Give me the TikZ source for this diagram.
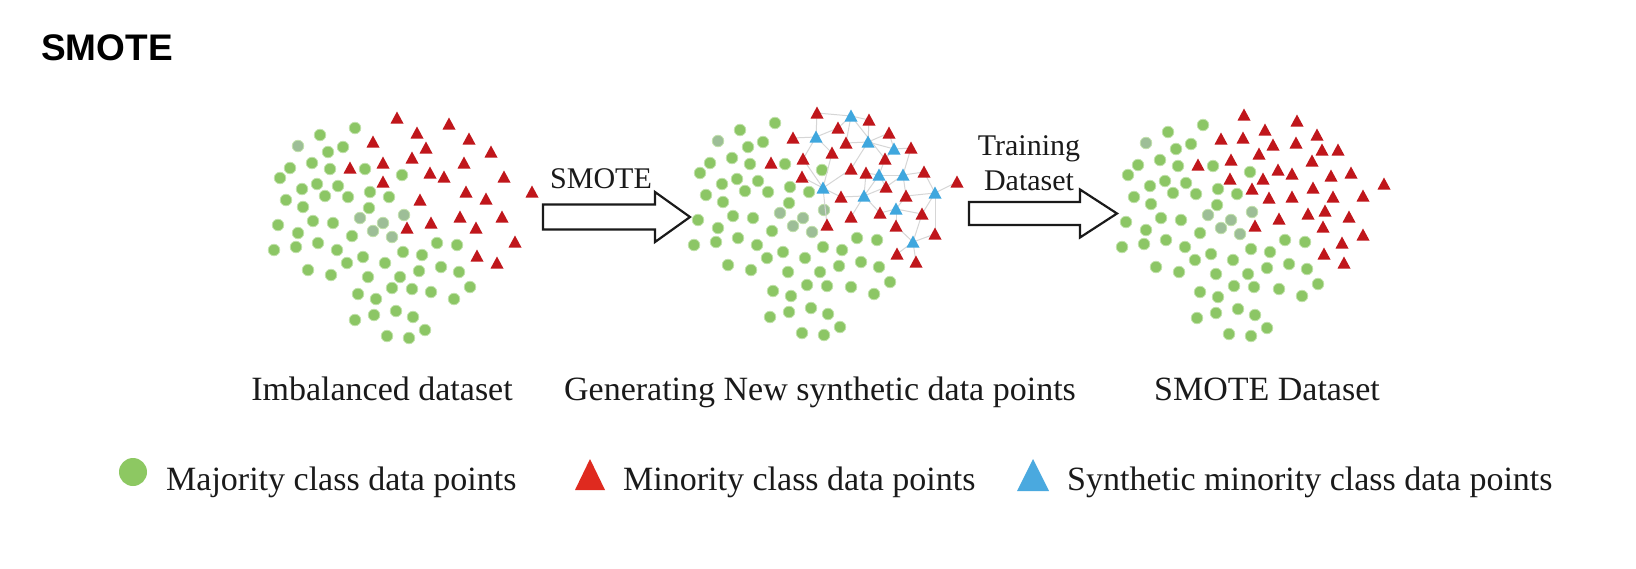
\documentclass[tikz,border=0pt]{standalone}
\usepackage{fontspec}
\setmainfont{Liberation Serif}
\newfontfamily\titlefont{Liberation Sans}
\definecolor{gdotc}{HTML}{8CC665}
\definecolor{ghalo}{HTML}{C2E2AC}
\definecolor{ggrayc}{HTML}{9DBE97}
\definecolor{redc}{HTML}{C0161B}
\definecolor{bluec}{HTML}{3FA7DE}
\definecolor{edgec}{HTML}{D6D6D6}
\definecolor{legG}{HTML}{8DC862}
\definecolor{legR}{HTML}{DF2A1F}
\definecolor{legB}{HTML}{4AA9DF}
\definecolor{inkc}{HTML}{1A1A1A}
\tikzset{
  gdot/.style={fill=gdotc, draw=ghalo, line width=0.8pt},
  ggray/.style={fill=ggrayc, draw=ghalo, line width=0.8pt},
  redT/.style={fill=redc},
  blueT/.style={fill=bluec},
  link/.style={draw=edgec, line width=1pt},
  blockarrow/.style={draw=inkc, line width=2.2pt, fill=white, line join=miter},
  lab/.style={inner sep=0pt, text=inkc, font=\fontsize{34}{40}\selectfont},
  alab/.style={inner sep=0pt, text=inkc, font=\fontsize{30}{35}\selectfont},
}
\newcommand\GreenA{355/128,320/135,343/147,328/152,312/163,290/168,280/178,330/169,365/169,402/175,302/189,317/184,338/186,325/196,348/197,370/192,389/197,286/200,303/207,369/208,313/221,333/223,278/225,298/233,352/236,318/243,296/247,274/250,337/250,363/257,403/252,422/255,437/243,457/245,385/263,347/263,308/270,331/275,368/277,400/277,419/271,441/267,459/272,470/287,431/292,454/299}
\newcommand\GreenGray{298/146,360/218,404/215,383/223,373/231,392/237}
\newcommand\GreenB{412/289,392/288,358/294,376/299,355/320,374/315,396/311,413/317,425/330,387/336,409/338}
\newcommand\RedOne{397/118,449/124,417/133,373/142,469/139,426/148,491/152,412/158,350/168,383/163,464/163,430/173,444/177,504/177,383/182,466/192,486/199,420/200,532/192,460/217,431/223,502/217,476/228,407/228,515/242,477/256,497/263}
\newcommand\RedTwo{817/113,869/120,838/128,889/133,793/138,846/143,911/148,832/153,803/159,771/163,885/159,851/169,866/173,924/172,802/177,886/187,841/197,906/196,880/213,851/217,922/214,827/225,896/226,935/234,897/254,916/262,957/182}
\newcommand\BlueTwo{851/116,816/137,868/142,894/149,879/175,903/175,823/188,864/196,935/193,896/209,913/242}
\newcommand\RedThree{1244/115,1297/121,1265/130,1317/135,1221/139,1243/138,1273/145,1296/143,1322/150,1338/150,1259/154,1312/161,1231/160,1198/165,1278/170,1292/174,1331/176,1351/173,1230/179,1263/179,1252/189,1313/188,1269/198,1292/197,1333/197,1308/214,1325/211,1349/217,1279/219,1255/226,1323/227,1342/243,1324/254,1344/263,1384/184,1363/196,1363/235}
\newcommand\LinksTwo{851/116/817/113,851/116/869/120,851/116/838/128,851/116/846/143,851/116/885/159,
816/137/817/113,816/137/838/128,816/137/793/138,816/137/803/159,816/137/832/153,
868/142/846/143,868/142/869/120,868/142/889/133,868/142/851/169,868/142/894/149,
894/149/889/133,894/149/911/148,894/149/885/159,
879/175/866/173,879/175/885/159,879/175/886/187,879/175/864/196,879/175/903/175,
903/175/924/172,903/175/911/148,903/175/906/196,903/175/886/187,
823/188/802/177,823/188/803/159,823/188/841/197,823/188/832/153,823/188/827/225,823/188/851/169,
864/196/841/197,864/196/851/217,864/196/880/213,864/196/886/187,864/196/866/173,
935/193/924/172,935/193/906/196,935/193/922/214,935/193/957/182,935/193/935/234,
896/209/880/213,896/209/906/196,896/209/896/226,896/209/922/214,
913/242/896/226,913/242/897/254,913/242/916/262,913/242/935/234,913/242/922/214}
\newcommand\tri[3]{\fill[#3] (#1-6.5,#2+5.5) -- (#1+6.5,#2+5.5) -- (#1,#2-6.5) -- cycle;}
\newcommand\greencluster[4]{%
  \begin{scope}[shift={(#1,#2)}]
    \foreach \x/\y in \GreenA {\path[gdot] (\x,\y) circle (5.8pt);}
    \foreach \x/\y in \GreenGray {\path[ggray] (\x,\y) circle (5.8pt);}
  \end{scope}
  \begin{scope}[shift={(#3,#4)}]
    \foreach \x/\y in \GreenB {\path[gdot] (\x,\y) circle (5.8pt);}
  \end{scope}}
\begin{document}
\begin{tikzpicture}[x=1pt,y=-1pt]
\useasboundingbox (0,0) rectangle (1636,568);
\fill[white] (0,0) rectangle (1636,568);

% title
\node[anchor=base west, inner sep=0pt, text=black, font=\titlefont\bfseries\fontsize{37}{40}\selectfont] (title) at (41,60) {SMOTE};

% cluster 1
\greencluster{0}{0}{0}{0}
\foreach \x/\y in \RedOne {\tri{\x}{\y}{redT}}

% cluster 2
\greencluster{420}{-5}{415}{-3}
\foreach \a/\b/\c/\d in \LinksTwo {\draw[link] (\a,\b) -- (\c,\d);}
\foreach \x/\y in \RedTwo {\tri{\x}{\y}{redT}}
\foreach \x/\y in \BlueTwo {\tri{\x}{\y}{blueT}}

% cluster 3
\greencluster{848}{-3}{842}{-2}
\foreach \x/\y in \RedThree {\tri{\x}{\y}{redT}}

% arrows
\draw[blockarrow] (543,204.5) -- (655,204.5) -- (655,192) -- (690,217) -- (655,242) -- (655,229.5) -- (543,229.5) -- cycle;
\draw[blockarrow] (969,202) -- (1080,202) -- (1080,189.5) -- (1117,213.5) -- (1080,237.5) -- (1080,225) -- (969,225) -- cycle;
\node[alab, anchor=base] (smotelab) at (601,188) {SMOTE};
\node[alab, anchor=base, align=center] (trainlab) at (1029,190) {Training\\Dataset};

% captions
\node[lab, anchor=base] (cap1) at (382,400) {Imbalanced dataset};
\node[lab, anchor=base] (cap2) at (820,400) {Generating New synthetic data points};
\node[lab, anchor=base] (cap3) at (1267,400) {SMOTE Dataset};

% legend
\fill[legG] (133,472) circle (14pt);
\node[lab, anchor=base west] (legmaj) at (166,490) {Majority class data points};
\fill[legR] (575,490) -- (605,490) -- (590,459) -- cycle;
\node[lab, anchor=base west] (legmin) at (623,490) {Minority class data points};
\fill[legB] (1017,491) -- (1049,491) -- (1033,459) -- cycle;
\node[lab, anchor=base west] (legsyn) at (1067,490) {Synthetic minority class data points};
\end{tikzpicture}
\end{document}
